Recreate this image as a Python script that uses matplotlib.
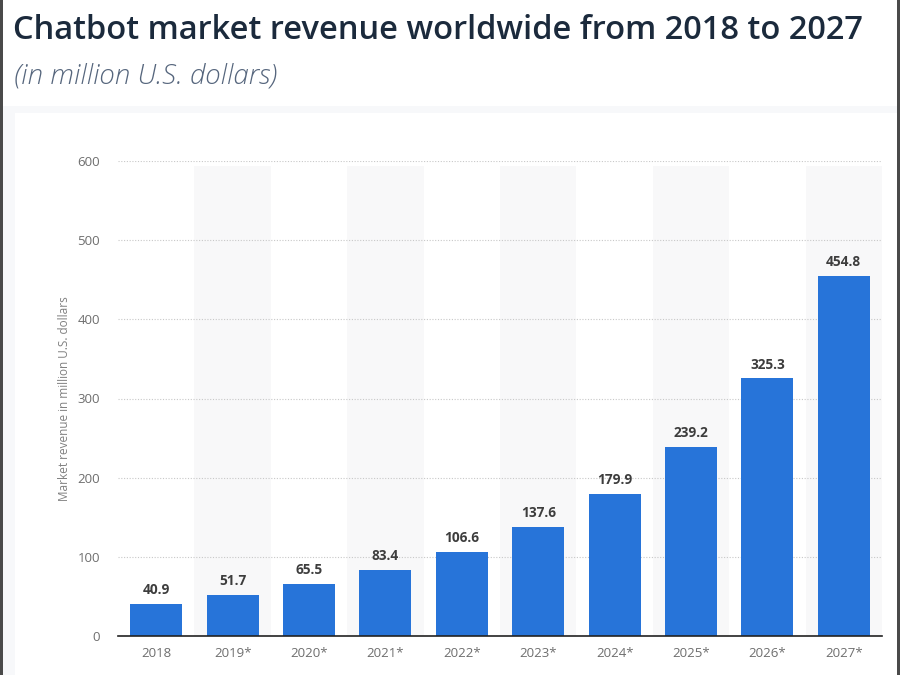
import matplotlib.pyplot as plt
from matplotlib.patches import Rectangle

# data
years = ['2018', '2019*', '2020*', '2021*', '2022*', '2023*', '2024*', '2025*', '2026*', '2027*']
revenue = [40.9, 51.7, 65.5, 83.4, 106.6, 137.6, 179.9, 239.2, 325.3, 454.8]
yticks = [0, 100, 200, 300, 400, 500, 600]

bar_color = '#2774d9'
plt.rcParams['font.family'] = ['Open Sans', 'DejaVu Sans']

fig = plt.figure(figsize=(9, 6.75), dpi=100)
fig.patch.set_facecolor('white')

# card background with soft shadow
fig.patches.append(Rectangle((0.0, 0.0), 1.0, 1 - 106 / 675, transform=fig.transFigure,
                             facecolor='#f7f8fa', edgecolor='none', zorder=-3))
fig.patches.append(Rectangle((15 / 900, 0.0), 1 - 15 / 900, 1 - 113 / 675, transform=fig.transFigure,
                             facecolor='white', edgecolor='none', zorder=-2))
# screen edges
fig.patches.append(Rectangle((0.0, 0.0), 2.5 / 900, 1.0, transform=fig.transFigure,
                             facecolor='#4a4a4a', edgecolor='none', zorder=5))
fig.patches.append(Rectangle((1 - 3 / 900, 0.0), 3 / 900, 1.0, transform=fig.transFigure,
                             facecolor='#4a4a4a', edgecolor='none', zorder=5))

fig.text(13 / 900, 1 - 14 / 675, 'Chatbot market revenue worldwide from 2018 to 2027',
         fontsize=23.5, fontweight='semibold', color='#1b2a3c', va='top', ha='left')
fig.text(14 / 900, 1 - 63 / 675, '(in million U.S. dollars)',
         fontsize=20, style='italic', fontweight='light', color='#56667d', va='top', ha='left')

ax = fig.add_axes([118 / 900, 1 - 636 / 675, 764 / 900, 475 / 675])
ax.set_facecolor('none')
x = list(range(len(years)))

# alternating bands
for i in x:
    if i % 2 == 1:
        ax.axvspan(i - 0.5, i + 0.5, ymax=0.99, color='#f8f8f9', zorder=0, lw=0)

ax.set_ylim(0, 600)
ax.set_xlim(-0.5, len(years) - 0.5)
ax.set_yticks(yticks)
ax.yaxis.grid(True, linestyle=(0, (1, 1.5)), color='#c8c8c8', linewidth=0.8, zorder=1)
ax.set_axisbelow(True)

bars = ax.bar(x, revenue, width=0.68, color=bar_color, zorder=3)
for xi, v in zip(x, revenue):
    ax.annotate(f'{v:.1f}', (xi, v), xytext=(0, 5), textcoords='offset points',
                ha='center', va='bottom', fontsize=9.8, fontweight='bold', color='#3d3d3d')

for s in ['top', 'right', 'left']:
    ax.spines[s].set_visible(False)
ax.spines['bottom'].set_color('#222222')
ax.spines['bottom'].set_linewidth(1.2)
ax.spines['bottom'].set_zorder(4)

ax.set_xticks(x)
ax.set_xticklabels(years)
ax.tick_params(axis='both', length=0, labelsize=9.5, colors='#6e6e6e')
ax.tick_params(axis='x', pad=8)
ax.tick_params(axis='y', pad=13)
ax.set_ylabel('Market revenue in million U.S. dollars', fontsize=8.5, color='#808080')
ax.yaxis.set_label_coords(-0.062, 0.5)

fig.savefig('out.png', dpi=100)
